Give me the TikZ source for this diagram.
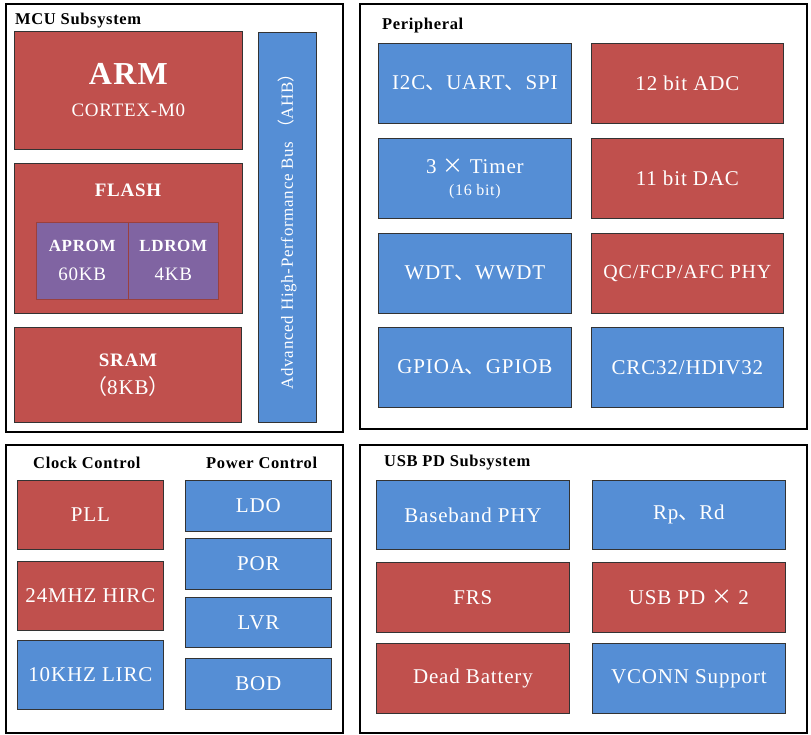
\documentclass[tikz,border=0pt]{standalone}
\usepackage{fontspec}
\setmainfont{Liberation Serif}[LetterSpace=4]
\newfontfamily\cjk{Noto Sans CJK SC}
\usetikzlibrary{positioning,calc}
\definecolor{BlockRed}{RGB}{192,80,77}
\definecolor{BlockBlue}{RGB}{85,142,213}
\definecolor{BlockPurple}{RGB}{128,100,162}
\newcommand{\dun}{{\cjk 、}}
\newcommand{\tms}{{\cjk ×}}
\tikzset{
  frame/.style={draw=black,line width=2.4pt,anchor=north west,inner sep=0pt},
  blk/.style={draw=black!80,line width=0.8pt,anchor=north west,inner sep=0pt,
    text=white,align=center,font=\fontsize{21}{24}\selectfont},
  redblk/.style={blk,fill=BlockRed},
  blueblk/.style={blk,fill=BlockBlue},
  purpleblk/.style={blk,fill=BlockPurple,draw=BlockRed!80!black,line width=0.5pt},
  head/.style={anchor=west,inner sep=0pt,font=\bfseries\fontsize{16.5}{18}\selectfont},
}
\begin{document}
\begin{tikzpicture}[x=1pt,y=-1pt]
\useasboundingbox (0,0) rectangle (811,735);
% MCU subsystem
\node[frame,minimum width=337pt,minimum height=428pt] (mcu) at (5,3) {};
\node[head] (mcuhd) at (15,21) {MCU Subsystem};
\node[redblk,minimum width=228pt,minimum height=118pt] (arm) at (14,31)
  {{\bfseries\fontsize{32}{34}\selectfont ARM}\\[8pt]{\fontsize{19}{22}\selectfont CORTEX-M0}};
\node[redblk,minimum width=228pt,minimum height=150pt] (flash) at (14,163) {};
\node[text=white,font=\bfseries\fontsize{19}{22}\selectfont] (flashlbl) at (128,190) {FLASH};
\node[purpleblk,minimum width=92pt,minimum height=77pt] (aprom) at (36,222)
  {{\bfseries\fontsize{17}{20}\selectfont APROM}\\[5pt]{\fontsize{19}{22}\selectfont 60KB}};
\node[purpleblk,minimum width=90pt,minimum height=77pt] (ldrom) at (128,222)
  {{\bfseries\fontsize{17}{20}\selectfont LDROM}\\[5pt]{\fontsize{19}{22}\selectfont 4KB}};
\node[redblk,minimum width=227pt,minimum height=95pt] (sram) at (14,327)
  {{\bfseries\fontsize{19}{22}\selectfont SRAM}\\[4pt]{\cjk （}8KB{\cjk ）}};
\node[blueblk,minimum width=58pt,minimum height=390pt] (ahb) at (258,32) {};
\node[text=white,rotate=90,font=\fontsize{17}{20}\selectfont] (ahblbl) at (ahb.center)
  {Advanced High-Performance Bus {\cjk （}AHB{\cjk ）}};

% Peripheral
\node[frame,minimum width=447pt,minimum height=425pt] (peri) at (359,3) {};
\node[head] (perihd) at (382,26) {Peripheral};
\node[blueblk,minimum width=193pt,minimum height=80pt] (bus) at (378,43) {I2C\dun UART\dun SPI};
\node[redblk,minimum width=192pt,minimum height=80pt] (adc) at (591,43) {12 bit ADC};
\node[blueblk,minimum width=193pt,minimum height=80pt] (timer) at (378,138)
  {3 \tms\ Timer\\[-2pt]{\fontsize{16}{18}\selectfont (16 bit)}};
\node[redblk,minimum width=192pt,minimum height=80pt] (dac) at (591,138) {11 bit DAC};
\node[blueblk,minimum width=193pt,minimum height=80pt] (wdt) at (378,233) {WDT\dun WWDT};
\node[redblk,minimum width=192pt,minimum height=80pt,font=\fontsize{20}{24}\selectfont] (qc) at (591,233) {QC/FCP/AFC PHY};
\node[blueblk,minimum width=193pt,minimum height=80pt] (gpio) at (378,327) {GPIOA\dun GPIOB};
\node[blueblk,minimum width=192pt,minimum height=80pt] (crc) at (591,327) {CRC32/HDIV32};

% Clock and power control
\node[frame,minimum width=337pt,minimum height=288pt] (ctrl) at (5,444) {};
\node[head] (clkhd) at (33,463) {Clock Control};
\node[head] (pwrhd) at (206,463) {Power Control};
\node[redblk,minimum width=146pt,minimum height=69pt] (pll) at (17,480) {PLL};
\node[redblk,minimum width=146pt,minimum height=69pt] (hirc) at (17,561) {24MHZ HIRC};
\node[blueblk,minimum width=146pt,minimum height=69pt] (lirc) at (17,640) {10KHZ LIRC};
\node[blueblk,minimum width=146pt,minimum height=51pt] (ldo) at (185,480) {LDO};
\node[blueblk,minimum width=146pt,minimum height=51pt] (por) at (185,538) {POR};
\node[blueblk,minimum width=146pt,minimum height=50pt] (lvr) at (185,597) {LVR};
\node[blueblk,minimum width=146pt,minimum height=51pt] (bod) at (185,658) {BOD};

% USB PD subsystem
\node[frame,minimum width=447pt,minimum height=288pt] (usb) at (359,444) {};
\node[head] (usbhd) at (384,463) {USB PD Subsystem};
\node[blueblk,minimum width=193pt,minimum height=69pt] (bbphy) at (376,480) {Baseband PHY};
\node[blueblk,minimum width=193pt,minimum height=69pt] (rprd) at (592,480) {Rp\dun Rd};
\node[redblk,minimum width=193pt,minimum height=70pt] (frs) at (376,562) {FRS};
\node[redblk,minimum width=193pt,minimum height=70pt] (usbpd) at (592,562) {USB PD \tms\ 2};
\node[redblk,minimum width=193pt,minimum height=70pt] (deadbat) at (376,643) {Dead Battery};
\node[blueblk,minimum width=193pt,minimum height=70pt] (vconn) at (592,643) {VCONN Support};
\end{tikzpicture}
\end{document}
